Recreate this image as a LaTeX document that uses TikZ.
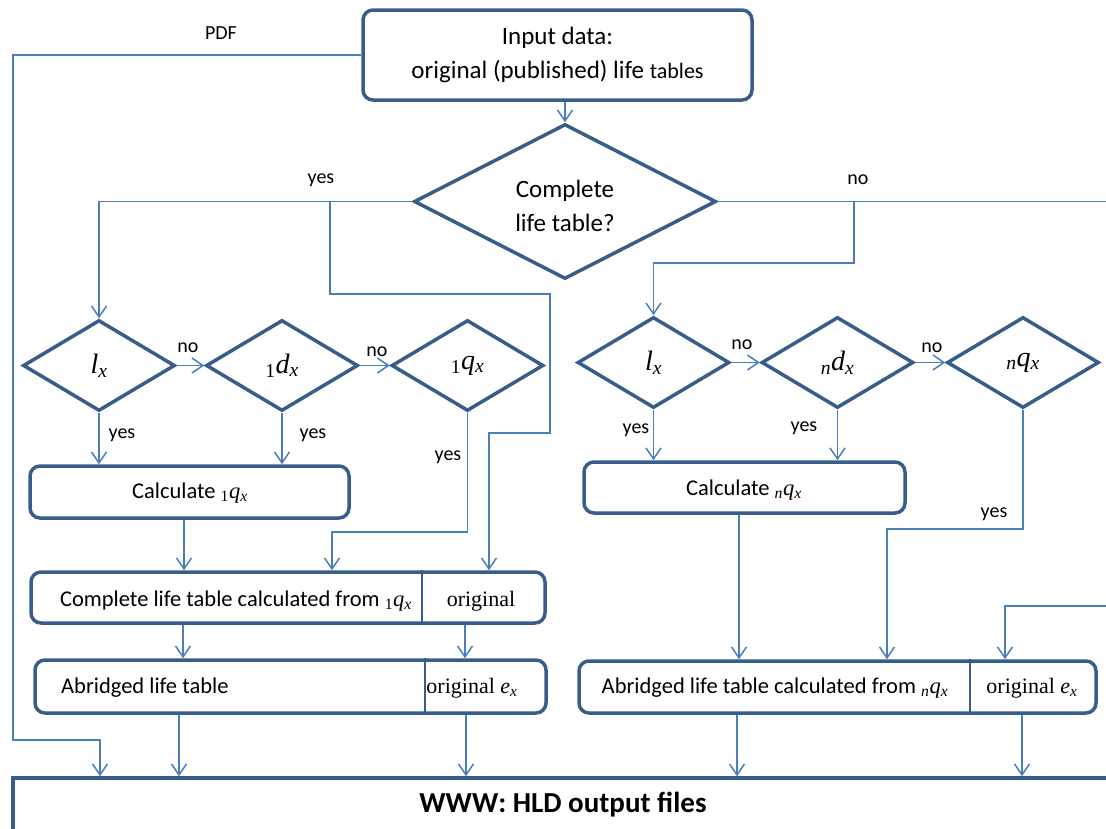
\documentclass[tikz,border=0pt]{standalone}
\usepackage{fontspec}
\setmainfont{Carlito}
\newfontfamily\tms{Liberation Serif}
\usetikzlibrary{arrows.meta,shapes.geometric,calc}
\definecolor{boxblue}{RGB}{56,93,138}
\definecolor{lineblue}{RGB}{74,126,187}
\newcommand\sfs[2]{\fontsize{#1}{#2}\selectfont}
\newcommand\mvar[3]{\textsubscript{#1}{\tms\itshape #2}\textsubscript{\tms\itshape #3}}
\begin{document}
\begin{tikzpicture}[x=1pt,y=-1pt,
  box/.style={draw=boxblue, line width=3.5pt, rounded corners=10pt, inner sep=0pt},
  dia/.style={diamond, draw=boxblue, line width=3.5pt, inner sep=0pt, minimum width=152pt, minimum height=91pt, font=\sfs{28}{30}},
  conn/.style={draw=lineblue, line width=1.5pt, -{Straight Barb[length=11pt,width=15pt]}},
  plain/.style={draw=lineblue, line width=1.5pt},
  lbl/.style={inner sep=0pt, font=\sfs{20}{24}},
  txt/.style={inner sep=0pt, font=\sfs{22.5}{27}},
  stxt/.style={inner sep=0pt, font=\sfs{22}{27}\tms}
]
\useasboundingbox (0,0) rectangle (1106,828);
\clip (0,0) rectangle (1106,828);

% main nodes
\node[box, minimum width=389pt, minimum height=90pt, align=center, font=\sfs{25}{34}] (inp) at (557.5,55)
  {Input data:\\original (published) life {\sfs{22}{34}tables}};
\node[dia, minimum width=302pt, minimum height=155pt] (big) at (565,201.5) {};
\node[inner sep=0pt, align=center, font=\sfs{25}{34}] (bigt) at (565,206) {Complete\\life table?};

\node[dia] (L1) at (99,365.5) {{\tms\itshape l}\textsubscript{\tms\itshape x}};
\node[dia] (L2) at (282,365.5) {\mvar{\tms 1}{d}{x}};
\node[dia] (L3) at (467.5,365.5) {\mvar{\tms 1}{q}{x}};
\node[dia] (R1) at (653.5,362.5) {{\tms\itshape l}\textsubscript{\tms\itshape x}};
\node[dia] (R2) at (837.5,362.5) {\mvar{\tms\itshape n}{d}{x}};
\node[dia] (R3) at (1023,362.5) {\mvar{\tms\itshape n}{q}{x}};

\node[box, minimum width=319pt, minimum height=52pt] (calc1) at (189.5,492) {};
\node[txt] (c1t) at (190,493) {Calculate \mvar{\tms 1}{q}{x}};

\node[box, minimum width=514pt, minimum height=51pt] (cmp) at (288,597.5) {};
\coordinate (d1) at (422,597.5);
\draw[draw=boxblue, line width=1.2pt] (d1 |- cmp.north) -- (d1 |- cmp.south);
\node[txt] (cmpt) at (236,601) {Complete life table calculated from \mvar{\tms 1}{q}{x}};
\node[stxt] (cmpo) at (481,601) {original};

\node[box, minimum width=511pt, minimum height=53pt] (abr1) at (290.5,686.5) {};
\coordinate (d2) at (425,686.5);
\draw[draw=boxblue, line width=1.2pt] (d2 |- abr1.north) -- (d2 |- abr1.south);
\node[txt, anchor=west] (abr1t) at (61,688) {Abridged life table};
\node[stxt] (abr1o) at (472,688) {original {\itshape e}\textsubscript{\itshape x}};

\node[box, minimum width=321pt, minimum height=51pt] (calcn) at (744.5,487.5) {};
\node[txt] (cnt) at (744,490) {Calculate \mvar{\tms\itshape n}{q}{x}};

\node[box, minimum width=517pt, minimum height=52pt] (abrn) at (837.5,687) {};
\coordinate (d3) at (970,687);
\draw[draw=boxblue, line width=1.2pt] (d3 |- abrn.north) -- (d3 |- abrn.south);
\node[txt] (abrnt) at (775,688) {Abridged life table calculated from \mvar{\tms\itshape n}{q}{x}};
\node[stxt] (abrno) at (1032,688) {original {\itshape e}\textsubscript{\itshape x}};

\node[draw=boxblue, line width=3.5pt, inner sep=0pt, minimum width=1117pt, minimum height=100pt] (bot) at (571.5,828) {};
\node[inner sep=0pt, font=\sfs{29}{34}\bfseries] (bott) at (563,805) {WWW: HLD output files};

% labels
\node[lbl] (lpdf) at (221,33) {PDF};
\node[lbl] (ly0) at (321,180) {yes};
\node[lbl] (ln0) at (858,180) {no};
\node[lbl] (ln1) at (188,348) {no};
\node[lbl] (ln2) at (377,352) {no};
\node[lbl] (ly1) at (122,435) {yes};
\node[lbl] (ly2) at (313,435) {yes};
\node[lbl] (ly3) at (448,457) {yes};
\node[lbl] (ln3) at (742,345) {no};
\node[lbl] (ln4) at (932,348) {no};
\node[lbl] (ly4) at (636,430) {yes};
\node[lbl] (ly5) at (804,428) {yes};
\node[lbl] (ly6) at (994,514) {yes};

% connectors
\draw[conn] (inp.south -| big.north) -- (big.north);

\coordinate (p1) at (13,740);
\coordinate (p2) at (100,740);
\draw[conn] (inp.west) -| (p1) -- (p2) -- (p2 |- bot.north);

\draw[conn] (big.west) -| (L1.north);
\coordinate (b1) at (330,294);
\coordinate (b2) at (550,433);
\coordinate (b3) at (489,433);
\draw[conn] (big.west -| b1) -- (b1) -- (b1 -| b2) -- (b2) -- (b3) -- (b3 |- cmp.north);

\coordinate (eR) at (1112,201.5);
\draw[plain] (big.east) -- (eR);
\coordinate (b4) at (854,263);
\draw[conn] (big.east -| b4) -- (b4) -| (R1.north);

\draw[conn] (L1.east) -- (L2.west);
\draw[conn] (L2.east) -- (L3.west);
\draw[conn] (R1.east) -- (R2.west);
\draw[conn] (R2.east) -- (R3.west);

\draw[conn] (L1.south) -- (L1.south |- calc1.north);
\draw[conn] (L2.south) -- (L2.south |- calc1.north);
\coordinate (b5) at (332,532);
\draw[conn] (L3.south) |- (b5) -- (b5 |- cmp.north);

\coordinate (x1) at (184,0);
\draw[conn] (x1 |- calc1.south) -- (x1 |- cmp.north);
\coordinate (x2) at (183,0);
\coordinate (x3) at (465,0);
\draw[conn] (x2 |- cmp.south) -- (x2 |- abr1.north);
\draw[conn] (x3 |- cmp.south) -- (x3 |- abr1.north);
\coordinate (x4) at (179,0);
\coordinate (x5) at (466,0);
\draw[conn] (x4 |- abr1.south) -- (x4 |- bot.north);
\draw[conn] (x5 |- abr1.south) -- (x5 |- bot.north);

\draw[conn] (R1.south) -- (R1.south |- calcn.north);
\draw[conn] (R2.south) -- (R2.south |- calcn.north);
\coordinate (b6) at (887,529);
\draw[conn] (R3.south) |- (b6) -- (b6 |- abrn.north);
\coordinate (x6) at (739,0);
\draw[conn] (x6 |- calcn.south) -- (x6 |- abrn.north);
\coordinate (eR2) at (1112,606);
\coordinate (b7) at (1005,606);
\draw[conn] (eR2) -- (b7) -- (b7 |- abrn.north);
\coordinate (x7) at (737,0);
\coordinate (x8) at (1022,0);
\draw[conn] (x7 |- abrn.south) -- (x7 |- bot.north);
\draw[conn] (x8 |- abrn.south) -- (x8 |- bot.north);
\end{tikzpicture}
\end{document}
